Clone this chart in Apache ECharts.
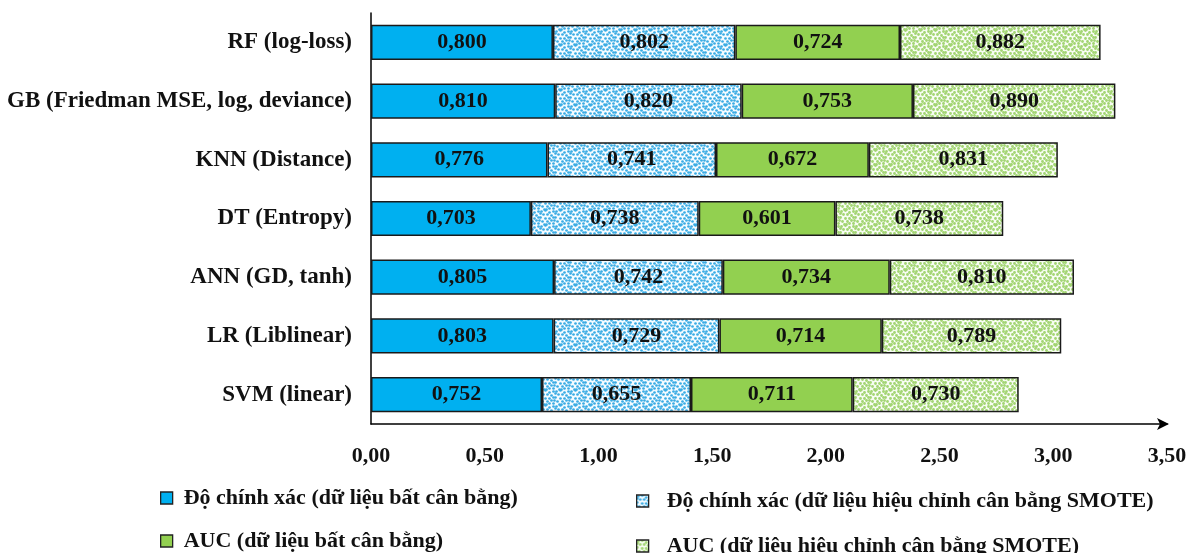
<!DOCTYPE html>
<html>
<head>
<meta charset="utf-8">
<script src="https://cdn.jsdelivr.net/npm/echarts@6/dist/echarts.min.js"></script>
<style>
  html, body { margin: 0; padding: 0; background: #fff; }
  #chart { width: 1196px; height: 553px; }
</style>
</head>
<body>
<div id="chart"></div>
<script>
// Models (top to bottom)
const models = [
  'RF (log-loss)',
  'GB (Friedman MSE, log, deviance)',
  'KNN (Distance)',
  'DT (Entropy)',
  'ANN (GD, tanh)',
  'LR (Liblinear)',
  'SVM (linear)'
];

const seriesNames = [
  'Độ chính xác (dữ liệu bất cân bằng)',
  'Độ chính xác (dữ liệu hiệu chỉnh cân bằng SMOTE)',
  'AUC (dữ liệu bất cân bằng)',
  'AUC (dữ liêu hiêu chỉnh cân bằng SMOTE)'
];

const accImbalanced = [0.800, 0.810, 0.776, 0.703, 0.805, 0.803, 0.752];
const accSmote      = [0.802, 0.820, 0.741, 0.738, 0.742, 0.729, 0.655];
const aucImbalanced = [0.724, 0.753, 0.672, 0.601, 0.734, 0.714, 0.711];
const aucSmote      = [0.882, 0.890, 0.831, 0.738, 0.810, 0.789, 0.730];

const xTicks = { min: 0, max: 3.5, interval: 0.5 };

// Dotted texture used for the SMOTE series
const DOTS = [
  [1,1],[5,0],[9,2],[3,4],[7,4],[11,5],[0,7],[5,8],[9,8],[2,11],
  [7,11],[11,10],[4,14],[9,13],[13,13],[13,1],[13,7],[0,3],[14,10],[6,14]
];
function dotPattern(bg, dot, r) {
  const c = document.createElement('canvas');
  c.width = 15; c.height = 15;
  const g = c.getContext('2d');
  g.fillStyle = bg;
  g.fillRect(0, 0, 15, 15);
  g.fillStyle = dot;
  DOTS.forEach(([x, y]) => {
    for (const dx of [-15, 0, 15]) {
      for (const dy of [-15, 0, 15]) {
        g.beginPath();
        g.arc(x + 0.5 + dx, y + 0.5 + dy, r, 0, Math.PI * 2);
        g.fill();
      }
    }
  });
  return { image: c, repeat: 'repeat' };
}

const FONT = '"Liberation Serif", "Times New Roman", serif';
const fillColors = [
  '#00B0F0',
  dotPattern('#f4fbff', '#3aace4', 1.35),
  '#92D050',
  dotPattern('#f7fcf2', '#a3d573', 1.4)
];
const dataSets = [accImbalanced, accSmote, aucImbalanced, aucSmote];

const fmt = v => v.toFixed(3).replace('.', ',');

const chart = echarts.init(document.getElementById('chart'), null, { renderer: 'canvas' });

// legend block placement: two columns, two rows
const legendPos = [
  { left: 160, top: 487, gap: 6 },
  { left: 636, top: 490, gap: 13 },
  { left: 160, top: 530, gap: 6 },
  { left: 636, top: 535, gap: 13 }
];

chart.setOption({
  backgroundColor: '#ffffff',
  animation: false,
  grid: { left: 371, right: 29, top: 13, bottom: 129, containLabel: false },
  legend: seriesNames.map((n, i) => ({
    data: [n],
    left: legendPos[i].left,
    top: legendPos[i].top,
    padding: 0,
    icon: 'rect',
    itemWidth: 12,
    itemHeight: 12,
    itemGap: 0,
    selectedMode: false,
    itemStyle: { borderColor: '#222', borderWidth: 1.3 },
    textStyle: {
      fontFamily: FONT, fontWeight: 'bold', fontSize: 22, color: '#111',
      padding: [0, 0, 0, legendPos[i].gap]
    }
  })),
  xAxis: {
    type: 'value',
    min: xTicks.min,
    max: xTicks.max,
    interval: xTicks.interval,
    splitLine: { show: false },
    axisTick: { show: false },
    axisLine: {
      show: true,
      symbol: ['none', 'arrow'],
      symbolSize: [9, 12],
      symbolOffset: [0, 2],
      lineStyle: { color: '#000', width: 1.5 }
    },
    axisLabel: {
      margin: 21,
      fontFamily: FONT,
      fontWeight: 'bold',
      fontSize: 22,
      color: '#111',
      formatter: v => v.toFixed(2).replace('.', ',')
    }
  },
  yAxis: {
    type: 'category',
    data: models,
    inverse: true,
    axisTick: { show: false },
    axisLine: { show: true, lineStyle: { color: '#000', width: 1.5 } },
    axisLabel: {
      margin: 19,
      fontFamily: FONT,
      fontWeight: 'bold',
      fontSize: 23,
      color: '#111'
    }
  },
  series: seriesNames.map((n, i) => ({
    name: n,
    type: 'bar',
    stack: 'total',
    barCategoryGap: '40%',
    data: dataSets[i],
    itemStyle: { color: fillColors[i], borderColor: '#1a1a1a', borderWidth: 1.5 },
    label: {
      show: true,
      position: 'inside',
      fontFamily: FONT,
      fontWeight: 'bold',
      fontSize: 22,
      color: '#111',
      formatter: p => fmt(p.value)
    }
  }))
});
</script>
</body>
</html>
